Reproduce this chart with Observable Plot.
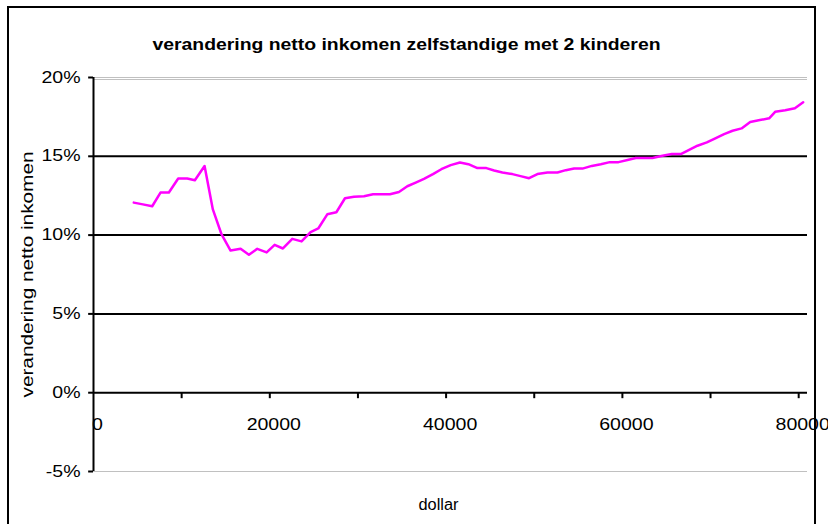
<!DOCTYPE html>
<html>
<head>
<meta charset="utf-8">
<script src="https://cdn.jsdelivr.net/npm/d3@7"></script>
<script src="https://cdn.jsdelivr.net/npm/@observablehq/plot@0.6"></script>
<style>
  html, body { margin: 0; padding: 0; background: #fff; }
  #wrap { position: relative; width: 828px; height: 524px; overflow: hidden; }
  #frame { position: absolute; left: 7px; top: 6px; width: 809px; height: 530px; border: 2px solid #000; box-sizing: border-box; pointer-events: none; }
  #chart { position: absolute; left: 0; top: 0; }
</style>
</head>
<body>
<div id="wrap"><div id="chart"></div><div id="frame"></div></div>
<script>
const title = "verandering netto inkomen zelfstandige met 2 kinderen";
const yLabel = "verandering netto inkomen";
const xLabel = "dollar";

const income = [4570, 5600, 6660, 7600, 8550, 9610, 10630, 11500, 12600, 13540, 14530, 15550, 16690, 17630, 18580, 19640, 20550, 21490, 22550, 23600,
  24630, 25500, 26520, 27550, 28530, 29550, 30690, 31710, 32690, 33630, 34650, 35600, 36550, 37490, 38510, 39460, 40520, 41570, 42530,
  43550, 44570, 45450, 46390, 47520, 48450, 49410, 50360, 51500, 52630, 53580, 54520, 55470, 56530, 57550, 58570, 59560, 60580, 61520, 62500,
  63410, 64550, 65610, 66630, 67570, 68520, 69580, 70600, 71540, 72500, 73520, 74500, 75600, 76650, 77330, 78470, 79570, 80510];
const change = [12.06, 11.95, 11.83, 12.7, 12.7, 13.59, 13.59, 13.48, 14.38, 11.63, 10.04, 9.02, 9.13, 8.75, 9.13, 8.9, 9.38, 9.15, 9.76, 9.6,
  10.19, 10.42, 11.32, 11.45, 12.34, 12.44, 12.46, 12.59, 12.59, 12.59, 12.74, 13.1, 13.33, 13.57, 13.87, 14.18, 14.44, 14.61, 14.5,
  14.25, 14.25, 14.1, 13.97, 13.87, 13.74, 13.61, 13.87, 13.97, 13.97, 14.12, 14.22, 14.22, 14.39, 14.5, 14.63, 14.63, 14.76, 14.89, 14.89,
  14.89, 15.03, 15.14, 15.14, 15.41, 15.67, 15.88, 16.16, 16.41, 16.62, 16.77, 17.18, 17.3, 17.41, 17.82, 17.92, 18.05, 18.43];

const yTicks = [-5, 0, 5, 10, 15, 20];
const blackGrid = [5, 10, 15];
const greyGrid = [20, -5];
const xTicks = [0, 10000, 20000, 30000, 40000, 50000, 60000, 70000, 80000];
const xTickLabels = [0, 20000, 40000, 60000, 80000];

const data = income.map((x, i) => ({x, y: change[i]}));
const font = "'Liberation Sans', Arial, sans-serif";

const chart = Plot.plot({
  width: 828,
  height: 524,
  marginLeft: 93,
  marginRight: 21,
  marginTop: 77,
  marginBottom: 53,
  style: {fontFamily: font, fontSize: "16px", background: "transparent", overflow: "visible"},
  x: {domain: [0, 81000], axis: null},
  y: {domain: [-5, 20], axis: null},
  marks: [
    Plot.ruleY(greyGrid, {y: d => d, stroke: "#c0c0c0", strokeWidth: 1}),
    Plot.ruleY([20], {y: d => d, stroke: "#c0c0c0", strokeWidth: 1, dy: 2}),
    Plot.ruleY(blackGrid, {y: d => d, stroke: "#000", strokeWidth: 2}),
    Plot.ruleY([0], {y: d => d, stroke: "#000", strokeWidth: 2}),
    Plot.ruleX(xTicks.slice(1), {x: d => d, y1: 0, y2: -0.38, stroke: "#000", strokeWidth: 2}),
    Plot.text(xTickLabels, {x: d => d, y: 0, dy: 32, dx: 4, text: d => String(d), fill: "#000", fontSize: 16, textAnchor: "middle"}),
    Plot.ruleX([0], {x: d => d, y1: -5, y2: 20, stroke: "#000", strokeWidth: 2}),
    Plot.ruleY(yTicks, {y: d => d, x1: 0, x2: -550, stroke: "#000", strokeWidth: 2}),
    Plot.text(yTicks, {y: d => d, x: 0, dx: -13, text: d => d + "%", textAnchor: "end", fill: "#000", fontSize: 16}),
    Plot.line(data, {x: "x", y: "y", stroke: "#ff00ff", strokeWidth: 2.5}),
    Plot.text([title], {frameAnchor: "top", dy: -39, dx: -44, text: d => d, fontWeight: "bold", fontSize: 16, fill: "#000"}),
    Plot.text([yLabel], {frameAnchor: "left", dx: -66, rotate: -90, textAnchor: "middle", text: d => d, fontSize: 16, fill: "#000"}),
    Plot.text([xLabel], {frameAnchor: "bottom", dy: 38, dx: -12, text: d => d, fontSize: 16, fill: "#000"})
  ]
});
document.getElementById("chart").appendChild(chart);

// widen text to match the reference's glyph proportions
const fixed = {[title]: 508, [yLabel]: 246, [xLabel]: 40};
chart.querySelectorAll("text").forEach(t => {
  const s = t.textContent;
  let len;
  if (s in fixed) len = fixed[s];
  else len = t.getComputedTextLength() * 1.22;
  if (len > 0) {
    t.setAttribute("textLength", len.toFixed(1));
    t.setAttribute("lengthAdjust", "spacingAndGlyphs");
  }
});
</script>
</body>
</html>
